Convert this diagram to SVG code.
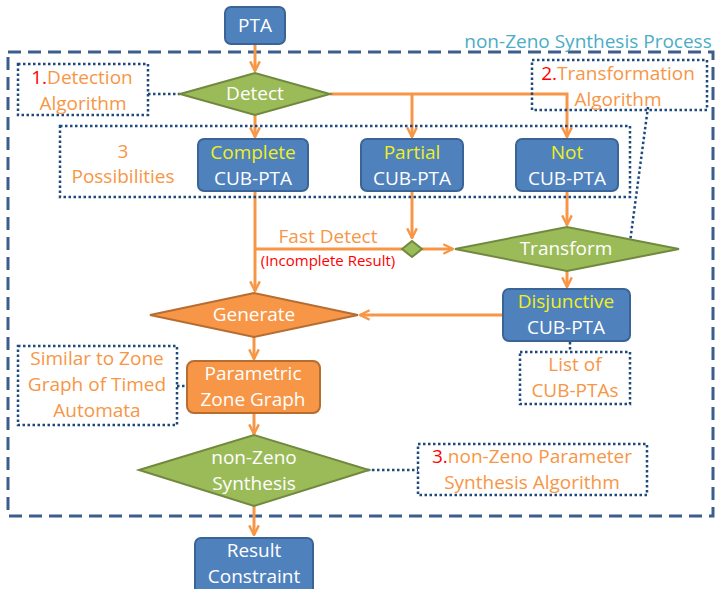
<svg xmlns="http://www.w3.org/2000/svg" width="715" height="589" viewBox="0 0 715 589">
<defs>
<marker id="arr" viewBox="0 0 10 10" refX="9" refY="5" markerWidth="4" markerHeight="4" orient="auto" markerUnits="strokeWidth">
<path d="M1,1 L9,5 L1,9" fill="none" stroke="#F79646" stroke-width="2"/>
</marker>
<style>
text{font-family:"Open Sans","Noto Sans","Liberation Sans",sans-serif;text-anchor:middle}
.blue{fill:#4F81BD;stroke:#3A6496;stroke-width:2}
.green{fill:#9BBB59;stroke:#71893F;stroke-width:2}
.orange{fill:#F79646;stroke:#B66D31;stroke-width:2}
.dot{fill:none;stroke:#1F497D;stroke-width:2.5;stroke-dasharray:2.5 2.5}
.dash{fill:none;stroke:#3B5E8C;stroke-width:3;stroke-dasharray:13 7}
.conn{fill:none;stroke:#F79646;stroke-width:3}
.w{fill:#FFFFFF;font-size:19px}
.y{fill:#F0F020;font-size:19px}
.o{fill:#F79646;font-size:19px}
.r{fill:#FF0000}
</style>
</defs>
<rect width="715" height="589" fill="#FFFFFF"/>

<g id="process-frame">
<rect class="dash" x="8" y="52" width="705" height="464"/>
<text x="588" y="48" style="fill:#4BACC6;font-size:19px">non-Zeno Synthesis Process</text>
</g>

<g id="connectors">
<line class="conn" x1="255" y1="44" x2="255" y2="71" marker-end="url(#arr)"/>
<line class="conn" x1="255" y1="115" x2="255" y2="137" marker-end="url(#arr)"/>
<polyline class="conn" points="330,94 567,94 567,137" marker-end="url(#arr)"/>
<line class="conn" x1="412" y1="94" x2="412" y2="137" marker-end="url(#arr)"/>
<line class="conn" x1="255" y1="191" x2="255" y2="291" marker-end="url(#arr)"/>
<line class="conn" x1="255" y1="249" x2="402" y2="249"/>
<line class="conn" x1="412" y1="191" x2="412" y2="238" marker-end="url(#arr)"/>
<line class="conn" x1="422" y1="249" x2="453" y2="249" marker-end="url(#arr)"/>
<line class="conn" x1="567" y1="191" x2="567" y2="225" marker-end="url(#arr)"/>
<line class="conn" x1="567" y1="271" x2="567" y2="287" marker-end="url(#arr)"/>
<line class="conn" x1="503" y1="315" x2="360" y2="315" marker-end="url(#arr)"/>
<line class="conn" x1="254" y1="337" x2="254" y2="359" marker-end="url(#arr)"/>
<line class="conn" x1="254" y1="413" x2="254" y2="434" marker-end="url(#arr)"/>
<line class="conn" x1="254" y1="506" x2="254" y2="535" marker-end="url(#arr)"/>
<line class="dot" x1="148" y1="94" x2="180" y2="94"/>
<line class="dot" x1="648" y1="107" x2="630" y2="242"/>
<line class="dot" x1="570" y1="342" x2="570" y2="352"/>
<line class="dot" x1="177" y1="386" x2="187" y2="386"/>
<line class="dot" x1="367" y1="470" x2="418" y2="470"/>
<text x="328" y="243" class="o" style="font-size:19px">Fast Detect</text>
<text x="328" y="266" class="r" style="font-size:15px">(Incomplete Result)</text>
</g>

<g id="pta">
<rect class="blue" x="225" y="7" width="60" height="37" rx="6"/>
<text x="255" y="32" class="w">PTA</text>
</g>

<g id="detection-note">
<rect class="dot" x="18" y="64" width="130" height="51"/>
<text x="82" y="84" class="o"><tspan class="r">1.</tspan>Detection</text>
<text x="83" y="110" class="o">Algorithm</text>
</g>

<g id="detect">
<polygon class="green" points="180,94 255,73 330,94 255,115"/>
<text x="255" y="100" class="w">Detect</text>
</g>

<g id="possibilities-note">
<rect class="dot" x="60" y="126" width="570" height="71"/>
<text x="123" y="158" class="o">3</text>
<text x="123" y="183" class="o">Possibilities</text>
</g>

<g id="complete">
<rect class="blue" x="198" y="139" width="110" height="52" rx="6"/>
<text x="253" y="159" class="y">Complete</text>
<text x="253" y="185" class="w">CUB-PTA</text>
</g>

<g id="partial">
<rect class="blue" x="361" y="139" width="102" height="52" rx="6"/>
<text x="412" y="159" class="y">Partial</text>
<text x="412" y="185" class="w">CUB-PTA</text>
</g>

<g id="not">
<rect class="blue" x="516" y="139" width="102" height="52" rx="6"/>
<text x="567" y="159" class="y">Not</text>
<text x="567" y="185" class="w">CUB-PTA</text>
</g>

<g id="transformation-note">
<rect class="dot" x="532" y="60" width="175" height="50"/>
<text x="618" y="80" class="o"><tspan class="r">2.</tspan>Transformation</text>
<text x="618" y="106" class="o">Algorithm</text>
</g>

<g id="merge">
<polygon class="green" points="402,249 412,241 422,249 412,257"/>
</g>

<g id="transform">
<polygon class="green" points="455,249 567,227 679,249 567,271"/>
<text x="566" y="255" class="w">Transform</text>
</g>

<g id="disjunctive">
<rect class="blue" x="503" y="289" width="127" height="52" rx="6"/>
<text x="566" y="308" class="y">Disjunctive</text>
<text x="566" y="334" class="w">CUB-PTA</text>
</g>

<g id="list-note">
<rect class="dot" x="520" y="352" width="110" height="52"/>
<text x="575" y="371" class="o">List of</text>
<text x="575" y="397" class="o">CUB-PTAs</text>
</g>

<g id="generate">
<polygon class="orange" points="150,315 254,293 358,315 254,337"/>
<text x="254" y="321" class="w">Generate</text>
</g>

<g id="zone-note">
<rect class="dot" x="18" y="346" width="159" height="79"/>
<text x="97" y="365" class="o">Similar to Zone</text>
<text x="97" y="391" class="o">Graph of Timed</text>
<text x="97" y="417" class="o">Automata</text>
</g>

<g id="parametric">
<rect class="orange" x="187" y="361" width="133" height="52" rx="7"/>
<text x="253" y="380" class="w">Parametric</text>
<text x="253" y="406" class="w">Zone Graph</text>
</g>

<g id="nonzeno">
<polygon class="green" points="139,470 254,435 369,470 254,506"/>
<text x="254" y="464" class="w">non-Zeno</text>
<text x="254" y="490" class="w">Synthesis</text>
</g>

<g id="synthesis-note">
<rect class="dot" x="418" y="444" width="229" height="51"/>
<text x="532" y="463" class="o"><tspan class="r">3.</tspan>non-Zeno Parameter</text>
<text x="532" y="489" class="o">Synthesis Algorithm</text>
</g>

<g id="result">
<rect class="blue" x="195" y="538" width="118" height="60" rx="6"/>
<text x="254" y="557" class="w">Result</text>
<text x="254" y="583" class="w">Constraint</text>
</g>
</svg>
